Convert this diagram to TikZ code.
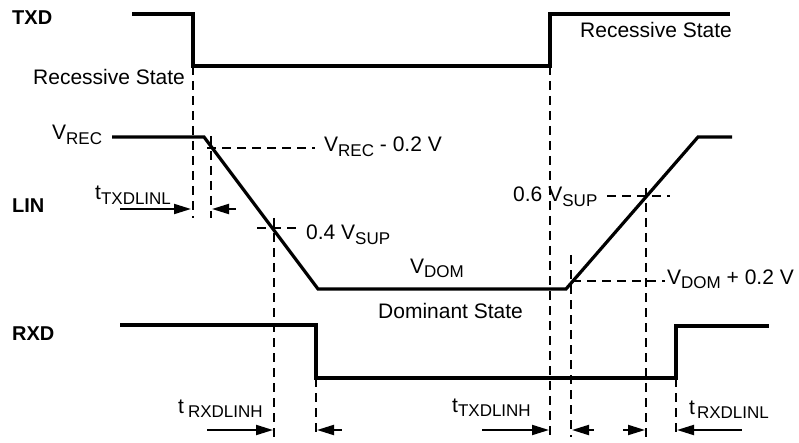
\documentclass[tikz,border=0pt]{standalone}
\usepackage{fontspec}
\setmainfont{Liberation Sans}
\usetikzlibrary{arrows.meta}
% lowered index text
\newcommand{\lo}[2][4.5pt]{\raisebox{-#1}{\fontsize{17}{18}\selectfont #2}}

\begin{document}
\begin{tikzpicture}[x=1pt,y=-1pt,font=\fontsize{21}{24}\selectfont,
    sig/.style={line width=3.2pt},
    guide/.style={line width=2pt,dash pattern=on 9pt off 6pt},
    tin/.style={line width=2pt,{Triangle[length=17pt,width=10pt]}-},
    lbl/.style={anchor=base west,inner sep=0pt}]
  \useasboundingbox (0,0) rectangle (799,443);
  % signal names
  \begin{scope}[font=\fontsize{20}{24}\selectfont\bfseries]
    \node[lbl] (ntxd) at (12,25) {TXD};
    \node[lbl] (nlin) at (12,213) {LIN};
    \node[lbl] (nrxd) at (12,340) {RXD};
  \end{scope}
  % waveforms
  \draw[sig] (132,14) -- (193,14) -- (193,66) -- (550,66) -- (550,14) -- (730,14);
  \draw[sig,line join=miter] (112,137) -- (204,137) -- (318,289) -- (566,289) -- (698,137) -- (732,137);
  \draw[sig] (120,325) -- (316,325) -- (316,378) -- (676,378) -- (676,326) -- (769,326);
  % crossing points
  \coordinate (tf) at (193,66);
  \coordinate (tr) at (550,66);
  \coordinate (l1) at (211,148);
  \coordinate (l2) at (274,228);
  \coordinate (l3) at (571,281);
  \coordinate (l4) at (646,196);
  \coordinate (rf) at (316,378);
  \coordinate (rr) at (676,378);
  \coordinate (bot) at (0,437);
  \coordinate (ar) at (0,430);
  % guides
  \draw[guide] (tf) -- (tf |- 0,218);
  \draw[guide] (l1 |- 0,136) -- (l1 |- 0,218);
  \draw[guide] (l2 |- 0,218) -- (l2 |- bot);
  \draw[guide] (rf) -- (rf |- bot);
  \draw[guide] (tr) -- (tr |- bot);
  \draw[guide] (l3 |- 0,255) -- (l3 |- bot);
  \draw[guide] (l4 |- 0,188) -- (l4 |- bot);
  \draw[guide] (rr) -- (rr |- bot);
  \draw[guide] (l1) ++(-4,0) -- ++(108,0);
  \draw[guide] (l2) ++(-17,0) -- ++(41,0);
  \draw[guide] (l4) ++(-39,0) -- ++(63,0);
  \draw[guide] (l3) ++(1,0) -- ++(93,0);
  % delay arrows
  \draw[tin] (tf |- 0,209) ++(-2,0) -- ++(-71,0);
  \draw[tin] (l1 |- 0,209) ++(1,0) -- ++(24,0);
  \draw[tin] (l2 |- ar) ++(-1,0) -- ++(-66,0);
  \draw[tin] (rf |- ar) ++(1,0) -- ++(25,0);
  \draw[tin] (tr |- ar) ++(-1,0) -- ++(-67,0);
  \draw[tin] (l3 |- ar) ++(1,0) -- ++(22,0);
  \draw[tin] (l4 |- ar) ++(-1,0) -- ++(-22,0);
  \draw[tin] (rr |- ar) ++(1,0) -- ++(65,0);
  % texts
  \node[lbl] (rs1) at (33,85) {Recessive State};
  \node[lbl] (rs2) at (580,38) {Recessive State};
  \node[lbl] (vrec) at (52,140) {V\lo{REC}};
  \node[lbl] (vrec2) at (324,152) {V\lo{REC} - 0.2 V};
  \node[lbl] (v04) at (306,240) {0.4 V\lo{SUP}};
  \node[lbl] (v06) at (513,202) {0.6\hspace{6pt}V\lo{SUP}};
  \node[lbl] (vdom) at (410,273) {V\lo{DOM}};
  \node[lbl] (vdom2) at (667,284) {V\lo{DOM} + 0.2 V};
  \node[lbl] (ds) at (378,318) {Dominant State};
  \node[lbl] (ttl) at (95,200) {t\lo{TXDLINL}};
  \node[lbl] (trh) at (178,413) {t\hspace{4pt}\lo{RXDLINH}};
  \node[lbl] (tth) at (452,412) {t\lo{TXDLINH}};
  \node[lbl] (trl) at (689,414) {t\hspace{2pt}\lo{RXDLINL}};
\end{tikzpicture}
\end{document}
